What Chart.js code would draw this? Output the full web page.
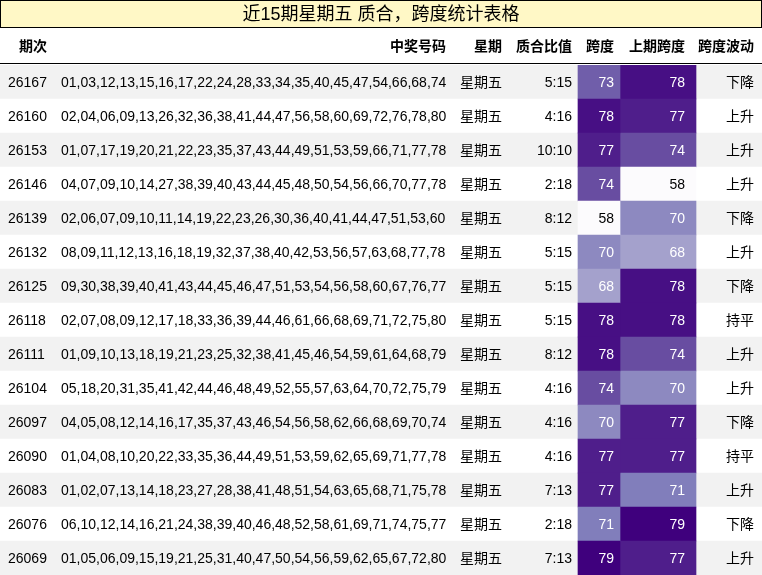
<!DOCTYPE html>
<html>
<head>
<meta charset="utf-8">
<script src="https://cdn.jsdelivr.net/npm/chart.js@4"></script>
<style>
  body { margin: 0; background: #fff; }
  #wrap { width: 762px; height: 575px; position: relative; }
</style>
</head>
<body>
<div id="wrap"><canvas id="myChart"></canvas></div>
<script>
const periods = ['26167','26160','26153','26146','26139','26132','26125','26118','26111','26104','26097','26090','26083','26076','26069'];
const numbers = [
  '01,03,12,13,15,16,17,22,24,28,33,34,35,40,45,47,54,66,68,74',
  '02,04,06,09,13,26,32,36,38,41,44,47,56,58,60,69,72,76,78,80',
  '01,07,17,19,20,21,22,23,35,37,43,44,49,51,53,59,66,71,77,78',
  '04,07,09,10,14,27,38,39,40,43,44,45,48,50,54,56,66,70,77,78',
  '02,06,07,09,10,11,14,19,22,23,26,30,36,40,41,44,47,51,53,60',
  '08,09,11,12,13,16,18,19,32,37,38,40,42,53,56,57,63,68,77,78',
  '09,30,38,39,40,41,43,44,45,46,47,51,53,54,56,58,60,67,76,77',
  '02,07,08,09,12,17,18,33,36,39,44,46,61,66,68,69,71,72,75,80',
  '01,09,10,13,18,19,21,23,25,32,38,41,45,46,54,59,61,64,68,79',
  '05,18,20,31,35,41,42,44,46,48,49,52,55,57,63,64,70,72,75,79',
  '04,05,08,12,14,16,17,35,37,43,46,54,56,58,62,66,68,69,70,74',
  '01,04,08,10,20,22,33,35,36,44,49,51,53,59,62,65,69,71,77,78',
  '01,02,07,13,14,18,23,27,28,38,41,48,51,54,63,65,68,71,75,78',
  '06,10,12,14,16,21,24,38,39,40,46,48,52,58,61,69,71,74,75,77',
  '01,05,06,09,15,19,21,25,31,40,47,50,54,56,59,62,65,67,72,80'
];
const weekday = Array(15).fill('星期五');
const ratios = ['5:15','4:16','10:10','2:18','8:12','5:15','5:15','5:15','8:12','4:16','4:16','4:16','7:13','2:18','7:13'];
const spans = [73,78,77,74,58,70,68,78,78,74,70,77,77,71,79];
const prevSpans = [78,77,74,58,70,68,78,78,74,70,77,77,71,79,77];
const trends = ['下降','上升','上升','上升','下降','上升','下降','持平','上升','上升','下降','持平','上升','下降','上升'];
const headers = ['期次','中奖号码','星期','质合比值','跨度','上期跨度','跨度波动'];
const title = '近15期星期五 质合，跨度统计表格';

// Purples colormap
const stops = ['#fcfbfd','#efedf5','#dadaeb','#bcbddc','#9e9ac8','#807dba','#6a51a3','#54278f','#3f007d'];
function hex(c) { return [1,3,5].map(i => parseInt(c.substr(i,2),16)); }
function purple(v) {
  let t = Math.max(0, Math.min(1, (v - 58) / (79 - 58))) * (stops.length - 1);
  let i = Math.min(Math.floor(t), stops.length - 2), f = t - i;
  let a = hex(stops[i]), b = hex(stops[i+1]);
  return 'rgb(' + a.map((x,k) => Math.round(x + (b[k]-x)*f)).join(',') + ')';
}

const FONT = '"Liberation Sans", "Noto Sans CJK SC", sans-serif';

const tablePlugin = {
  id: 'tableText',
  afterDatasetsDraw(chart) {
    const c = chart.ctx, x = chart.scales.x, y = chart.scales.y;
    c.save();
    // title
    c.fillStyle = '#fff8c6';
    c.fillRect(0.5, 0.5, 761, 27);
    c.strokeStyle = '#000'; c.lineWidth = 1;
    c.strokeRect(0.5, 0.5, 761, 27);
    c.fillStyle = '#000';
    c.font = '18px ' + FONT;
    c.textAlign = 'center'; c.textBaseline = 'middle';
    c.fillText(title, 381, 15);
    // header
    c.font = 'bold 14px ' + FONT;
    const hy = 47;
    c.textAlign = 'center'; c.fillText(headers[0], x.getPixelForValue(33), hy);
    c.textAlign = 'right'; c.fillText(headers[1], x.getPixelForValue(446), hy);
    c.textAlign = 'center'; c.fillText(headers[2], x.getPixelForValue(488), hy);
    c.textAlign = 'right'; c.fillText(headers[3], x.getPixelForValue(572), hy);
    c.fillText(headers[4], x.getPixelForValue(614), hy);
    c.fillText(headers[5], x.getPixelForValue(685), hy);
    c.fillText(headers[6], x.getPixelForValue(754), hy);
    c.beginPath(); c.moveTo(0, 63.5); c.lineTo(762, 63.5); c.stroke();
    // rows
    c.font = '14px ' + FONT;
    periods.forEach((p, i) => {
      const py = y.getPixelForValue(i) + 1;
      c.fillStyle = '#000';
      c.textAlign = 'left';
      c.fillText(p, x.getPixelForValue(8), py);
      c.fillText(numbers[i], x.getPixelForValue(61), py);
      c.fillText(weekday[i], x.getPixelForValue(460), py);
      c.textAlign = 'right';
      c.fillText(ratios[i], x.getPixelForValue(572), py);
      c.fillStyle = spans[i] > 62 ? '#fff' : '#000';
      c.fillText(spans[i], x.getPixelForValue(614), py);
      c.fillStyle = prevSpans[i] > 62 ? '#fff' : '#000';
      c.fillText(prevSpans[i], x.getPixelForValue(685), py);
      c.fillStyle = '#000';
      c.fillText(trends[i], x.getPixelForValue(754), py);
    });
    c.restore();
  }
};

const data = {
  labels: periods,
  datasets: [
    {
      data: periods.map(() => [0, 762]),
      backgroundColor: periods.map((p, i) => i % 2 === 0 ? '#f2f2f2' : '#ffffff'),
      grouped: false, barPercentage: 1, categoryPercentage: 1, order: 2
    },
    {
      data: spans.map(() => [578, 620]),
      backgroundColor: spans.map(purple),
      grouped: false, barPercentage: 1, categoryPercentage: 1, order: 1
    },
    {
      data: prevSpans.map(() => [620, 696]),
      backgroundColor: prevSpans.map(purple),
      grouped: false, barPercentage: 1, categoryPercentage: 1, order: 1
    }
  ]
};

const options = {
  indexAxis: 'y',
  responsive: true,
  maintainAspectRatio: false,
  animation: false,
  layout: { padding: { top: 65, left: 0, right: 0, bottom: 0 } },
  plugins: { legend: { display: false }, tooltip: { enabled: false } },
  scales: {
    x: { type: 'linear', min: 0, max: 762, display: false },
    y: { display: false, offset: true }
  }
};

new Chart(document.getElementById('myChart').getContext('2d'), {
  type: 'bar',
  data: data,
  options: options,
  plugins: [tablePlugin]
});
</script>
</body>
</html>
